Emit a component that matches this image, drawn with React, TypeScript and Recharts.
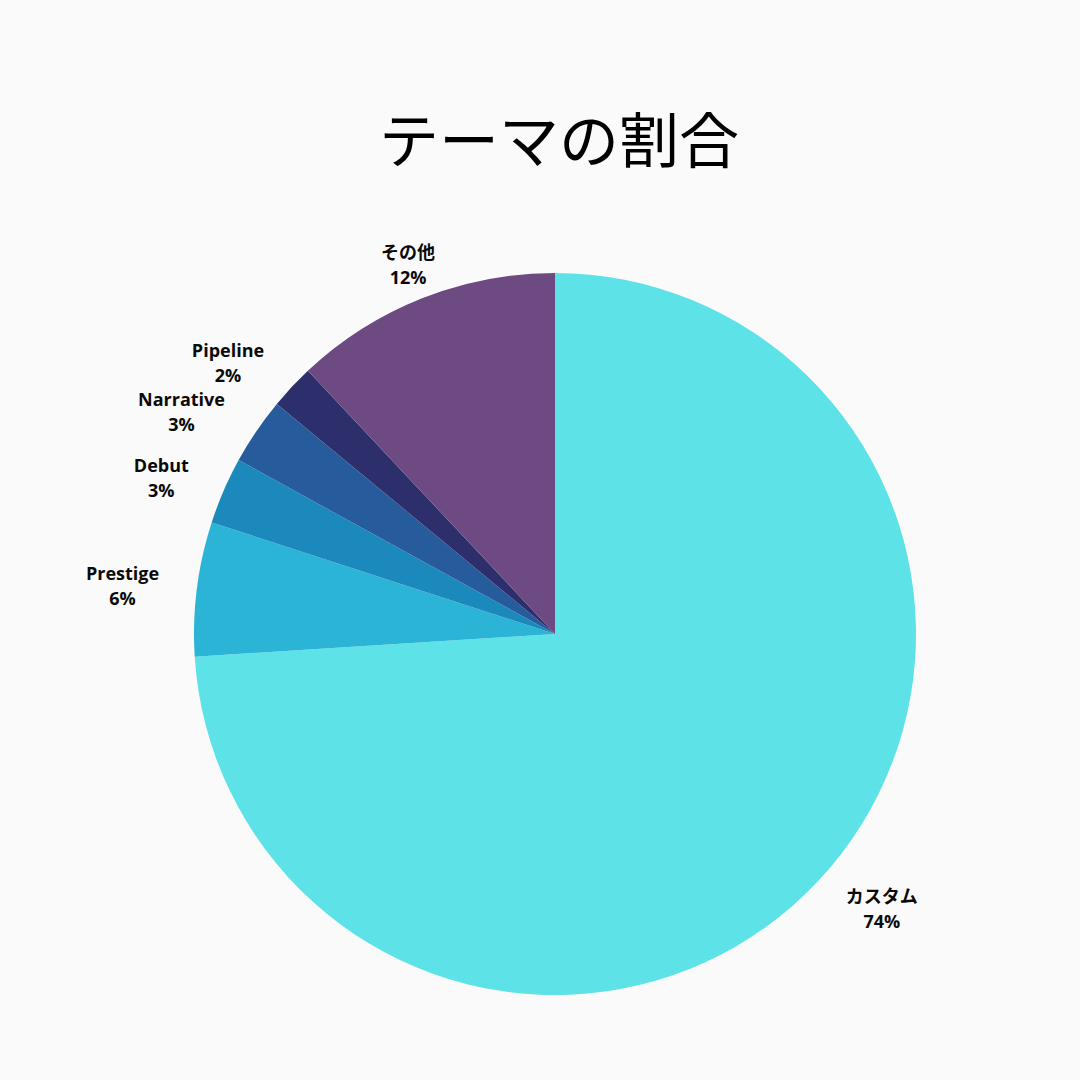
import React from "react";
import { PieChart, Pie, Cell } from "recharts";

const categories = ["カスタム", "Prestige", "Debut", "Narrative", "Pipeline", "その他"];
const shares = [74, 6, 3, 3, 2, 12];
const colors = ["#5DE2E7", "#2CB4D6", "#1B89BC", "#265C9C", "#2C2F6C", "#6D4A81"];

const data = categories.map((name, i) => ({ name, value: shares[i] }));

const RADIAN = Math.PI / 180;
const LABEL_FONT = "700 18px 'Open Sans', 'Noto Sans CJK JP', sans-serif";

let ctx: CanvasRenderingContext2D | null = null;
function measure(t: string): number {
  if (typeof document === "undefined") return t.length * 9;
  if (!ctx) ctx = document.createElement("canvas").getContext("2d");
  if (!ctx) return t.length * 9;
  ctx.font = LABEL_FONT;
  return ctx.measureText(t).width;
}

const renderLabel = (props: any) => {
  const { cx, cy, midAngle, outerRadius, name, value } = props;
  const r = outerRadius + 38;
  const c = Math.cos(-midAngle * RADIAN);
  const s = Math.sin(-midAngle * RADIAN);
  const px = cx + r * c;
  const py = cy + r * s + 1.5;
  const pct = `${value}%`;
  const half = Math.max(measure(String(name)), measure(pct)) / 2;
  let bx = px;
  if (Math.abs(c) >= 0.5) bx = c < 0 ? px - half : px + half;
  const common = {
    textAnchor: "middle" as const,
    dominantBaseline: "central" as const,
    fontFamily: "'Open Sans', 'Noto Sans CJK JP', sans-serif",
    fontWeight: 700,
    fontSize: 18,
    fill: "#0A0A0A",
  };
  return (
    <g>
      <text x={bx} y={py - 12.5} {...common}>
        {name}
      </text>
      <text x={bx} y={py + 12.5} {...common}>
        {pct}
      </text>
    </g>
  );
};

export default function App() {
  return (
    <div
      style={{
        position: "absolute",
        left: 0,
        top: 0,
        width: 1080,
        height: 1080,
        background: "#FAFAFA",
        overflow: "hidden",
      }}
    >
      <div
        style={{
          position: "absolute",
          left: 0,
          top: 107,
          width: 1118,
          textAlign: "center",
          fontFamily: "'Noto Sans CJK JP', sans-serif",
          fontSize: 60,
          lineHeight: "60px",
          color: "#000000",
        }}
      >
        テーマの割合
      </div>
      <PieChart
        width={1080}
        height={1080}
        margin={{ top: 0, right: 0, bottom: 0, left: 0 }}
        style={{ position: "absolute", left: 0, top: 0 }}
      >
        <Pie
          data={data}
          dataKey="value"
          nameKey="name"
          cx={555}
          cy={634}
          outerRadius={361}
          startAngle={90}
          endAngle={-270}
          stroke="none"
          labelLine={false}
          label={renderLabel}
          isAnimationActive={false}
        >
          {data.map((d, i) => (
            <Cell key={d.name} fill={colors[i]} />
          ))}
        </Pie>
      </PieChart>
    </div>
  );
}
